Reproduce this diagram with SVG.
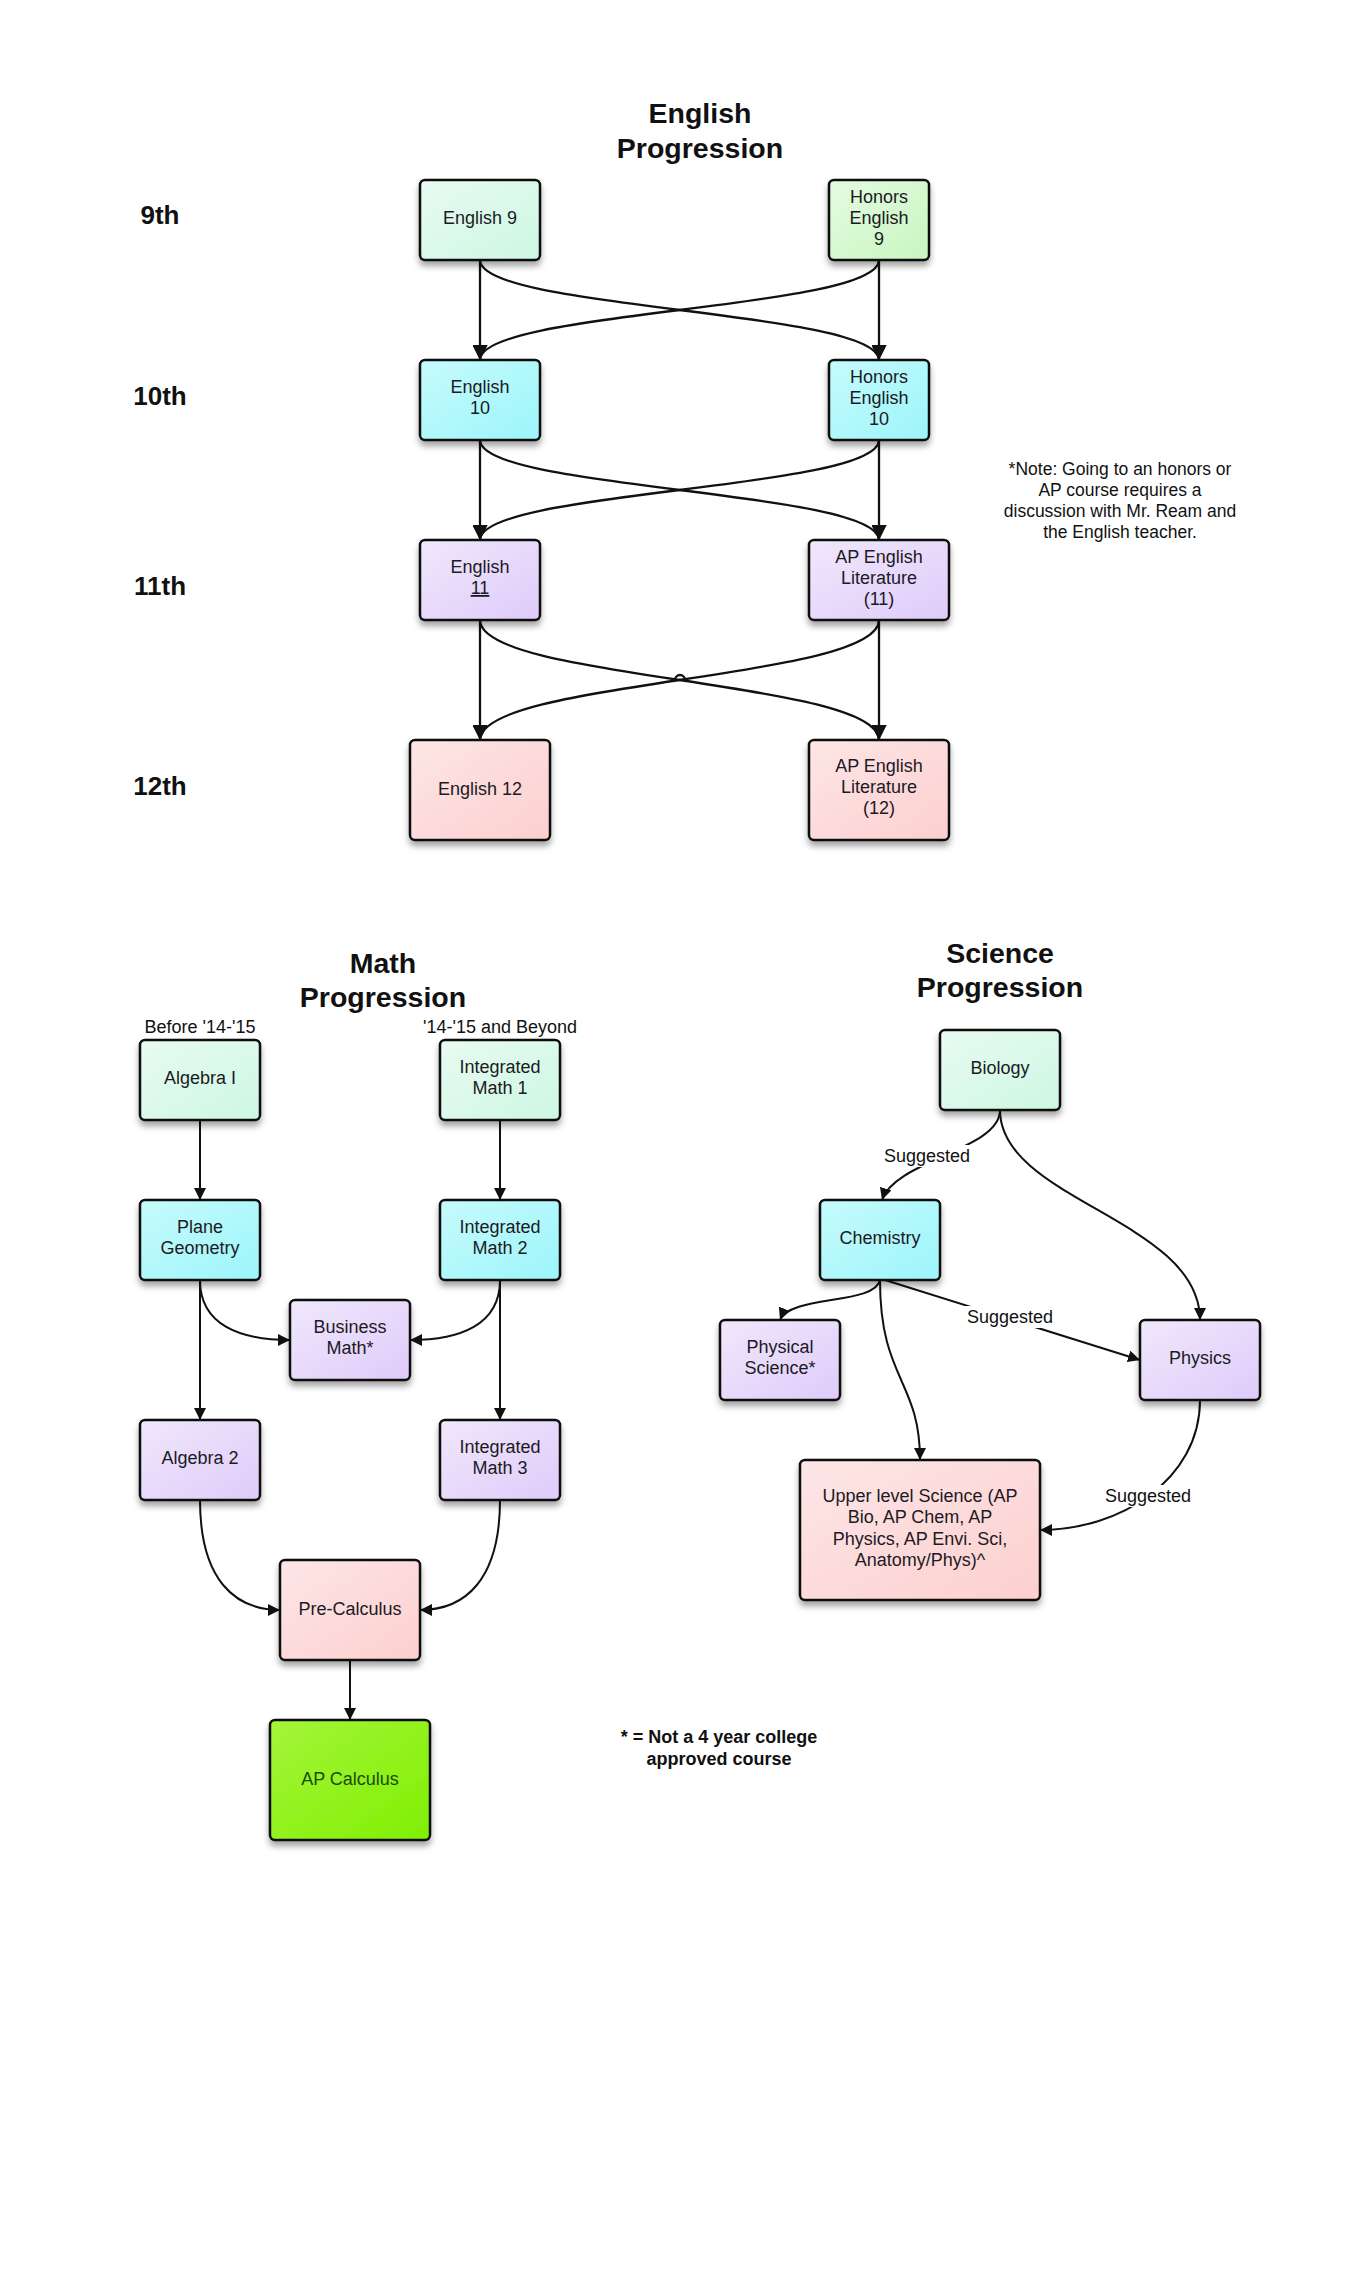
<svg xmlns="http://www.w3.org/2000/svg" width="1360" height="2274" viewBox="0 0 1360 2274">
<style>
.t{font-family:"Liberation Sans",Arial,sans-serif;font-size:18px;fill:#1c1a24;text-anchor:middle}
.h{font-family:"Liberation Sans",Arial,sans-serif;font-size:28.5px;font-weight:bold;fill:#111;text-anchor:middle}
.g{font-family:"Liberation Sans",Arial,sans-serif;font-size:26px;font-weight:bold;fill:#111;text-anchor:middle}
.n{font-family:"Liberation Sans",Arial,sans-serif;font-size:17.5px;fill:#111;text-anchor:middle}
.f{font-family:"Liberation Sans",Arial,sans-serif;font-size:18px;font-weight:bold;fill:#111;text-anchor:middle}
.box{stroke:#111;stroke-width:2.5}
.c{fill:none;stroke:#111;stroke-width:2}
.ce{fill:none;stroke:#111;stroke-width:2.3}
.a{marker-end:url(#arr)}
.al{marker-end:url(#arrL)}
.lb{fill:#fff}
</style>
<defs>
<filter id="sh" x="-20%" y="-20%" width="140%" height="150%">
<feDropShadow dx="0" dy="5" stdDeviation="3" flood-color="#000" flood-opacity="0.35"/>
</filter>
<linearGradient id="mint" x1="0" y1="0" x2="1" y2="1"><stop offset="0" stop-color="#e8fbf2"/><stop offset="1" stop-color="#cdf7e2"/></linearGradient>
<linearGradient id="green" x1="0" y1="0" x2="1" y2="1"><stop offset="0" stop-color="#e4fbe2"/><stop offset="1" stop-color="#c8f6bf"/></linearGradient>
<linearGradient id="cyan" x1="0" y1="0" x2="1" y2="1"><stop offset="0" stop-color="#c6fbfc"/><stop offset="1" stop-color="#9cf5fb"/></linearGradient>
<linearGradient id="lav" x1="0" y1="0" x2="1" y2="1"><stop offset="0" stop-color="#f0e8fc"/><stop offset="1" stop-color="#dfcbfa"/></linearGradient>
<linearGradient id="pink" x1="0" y1="0" x2="1" y2="1"><stop offset="0" stop-color="#fde6e6"/><stop offset="1" stop-color="#fdcfcf"/></linearGradient>
<linearGradient id="lime" x1="0" y1="0" x2="1" y2="1"><stop offset="0" stop-color="#a4f53a"/><stop offset="1" stop-color="#80ef02"/></linearGradient>
<marker id="arr" viewBox="0 0 12 12" refX="12" refY="6" markerWidth="12" markerHeight="12" markerUnits="userSpaceOnUse" orient="auto">
<path d="M0,0 L12,6 L0,12 z" fill="#111"/>
</marker>
<marker id="arrL" viewBox="0 0 15 15" refX="15" refY="7.5" markerWidth="15" markerHeight="15" markerUnits="userSpaceOnUse" orient="auto">
<path d="M0,0 L15,7.5 L0,15 z" fill="#111"/>
</marker>
</defs>
<rect width="1360" height="2274" fill="#fff"/>

<!-- Titles and labels -->
<g id="titles">
<text class="h" x="700" y="123">English</text>
<text class="h" x="700" y="158">Progression</text>
<text class="h" x="383" y="973">Math</text>
<text class="h" x="383" y="1007">Progression</text>
<text class="h" x="1000" y="963">Science</text>
<text class="h" x="1000" y="997">Progression</text>
</g>
<g id="grades">
<text class="g" x="160" y="224">9th</text>
<text class="g" x="160" y="405">10th</text>
<text class="g" x="160" y="595">11th</text>
<text class="g" x="160" y="795">12th</text>
</g>
<g id="note">
<text class="n" x="1120" y="475">*Note: Going to an honors or</text>
<text class="n" x="1120" y="496">AP course requires a</text>
<text class="n" x="1120" y="517">discussion with Mr. Ream and</text>
<text class="n" x="1120" y="538">the English teacher.</text>
</g>
<g id="mathlabels">
<text class="t" x="200" y="1033" style="fill:#111">Before '14-'15</text>
<text class="t" x="500" y="1033" style="fill:#111">'14-'15 and Beyond</text>
</g>
<g id="footnote">
<text class="f" x="719" y="1743">* = Not a 4 year college</text>
<text class="f" x="719" y="1765">approved course</text>
</g>

<!-- Connectors -->
<g id="connectors">
<path class="ce al" d="M480,260 L480,360"/>
<path class="ce al" d="M879,260 L879,360"/>
<path class="ce al" d="M480,260 C480,310 879,310 879,360"/>
<path class="ce al" d="M879,260 C879,310 480,310 480,360"/>
<path class="ce al" d="M480,440 L480,540"/>
<path class="ce al" d="M879,440 L879,540"/>
<path class="ce al" d="M480,440 C480,490 879,490 879,540"/>
<path class="ce al" d="M879,440 C879,490 480,490 480,540"/>
<path class="ce al" d="M480,620 L480,740"/>
<path class="ce al" d="M879,620 L879,740"/>
<path class="ce al" d="M480,620 C480,680 879,680 879,740"/>
<path class="ce al" d="M879,620 C879,680 480,680 480,740"/>
<path class="ce" d="M675,680 a5,5 0 0 1 10,0"/>

<path class="c a" d="M200,1120 L200,1200"/>
<path class="c a" d="M500,1120 L500,1200"/>
<path class="c a" d="M200,1280 C200,1325 240,1340 290,1340"/>
<path class="c a" d="M500,1280 C500,1325 460,1340 410,1340"/>
<path class="c a" d="M200,1280 L200,1420"/>
<path class="c a" d="M500,1280 L500,1420"/>
<path class="c a" d="M200,1500 C200,1580 235,1610 280,1610"/>
<path class="c a" d="M500,1500 C500,1580 465,1610 420,1610"/>
<path class="c a" d="M350,1660 L350,1720"/>

<path class="c a" d="M1000,1110 C1000,1150 895,1160 882,1200"/>
<path class="c a" d="M1000,1110 C1000,1200 1200,1220 1200,1320"/>
<path class="c a" d="M880,1280 C875,1305 790,1295 780,1320"/>
<path class="c a" d="M885,1280 L1140,1360"/>
<path class="c a" d="M880,1280 C880,1380 920,1380 920,1460"/>
<path class="c a" d="M1200,1400 C1200,1480 1120,1530 1040,1530"/>
<rect class="lb" x="882" y="1145" width="90" height="22"/>
<text class="t" x="927" y="1162" style="fill:#111">Suggested</text>
<rect class="lb" x="965" y="1306" width="90" height="22"/>
<text class="t" x="1010" y="1323" style="fill:#111">Suggested</text>
<rect class="lb" x="1103" y="1485" width="90" height="22"/>
<text class="t" x="1148" y="1502" style="fill:#111">Suggested</text>
</g>

<!-- English nodes -->
<g id="english9"><rect class="box" x="420" y="180" width="120" height="80" rx="5" fill="url(#mint)" filter="url(#sh)"/><text class="t" x="480" y="224">English 9</text></g>
<g id="honorsenglish9"><rect class="box" x="829" y="180" width="100" height="80" rx="5" fill="url(#green)" filter="url(#sh)"/><text class="t" x="879" y="203">Honors</text><text class="t" x="879" y="224">English</text><text class="t" x="879" y="245">9</text></g>
<g id="english10"><rect class="box" x="420" y="360" width="120" height="80" rx="5" fill="url(#cyan)" filter="url(#sh)"/><text class="t" x="480" y="393">English</text><text class="t" x="480" y="414">10</text></g>
<g id="honorsenglish10"><rect class="box" x="829" y="360" width="100" height="80" rx="5" fill="url(#cyan)" filter="url(#sh)"/><text class="t" x="879" y="383">Honors</text><text class="t" x="879" y="404">English</text><text class="t" x="879" y="425">10</text></g>
<g id="english11"><rect class="box" x="420" y="540" width="120" height="80" rx="5" fill="url(#lav)" filter="url(#sh)"/><text class="t" x="480" y="573">English</text><text class="t" x="480" y="594" text-decoration="underline">11</text></g>
<g id="apenglish11"><rect class="box" x="809" y="540" width="140" height="80" rx="5" fill="url(#lav)" filter="url(#sh)"/><text class="t" x="879" y="563">AP English</text><text class="t" x="879" y="584">Literature</text><text class="t" x="879" y="605">(11)</text></g>
<g id="english12"><rect class="box" x="410" y="740" width="140" height="100" rx="5" fill="url(#pink)" filter="url(#sh)"/><text class="t" x="480" y="795">English 12</text></g>
<g id="apenglish12"><rect class="box" x="809" y="740" width="140" height="100" rx="5" fill="url(#pink)" filter="url(#sh)"/><text class="t" x="879" y="772">AP English</text><text class="t" x="879" y="793">Literature</text><text class="t" x="879" y="814">(12)</text></g>

<!-- Math nodes -->
<g id="algebra1"><rect class="box" x="140" y="1040" width="120" height="80" rx="5" fill="url(#mint)" filter="url(#sh)"/><text class="t" x="200" y="1084">Algebra I</text></g>
<g id="intmath1"><rect class="box" x="440" y="1040" width="120" height="80" rx="5" fill="url(#mint)" filter="url(#sh)"/><text class="t" x="500" y="1073">Integrated</text><text class="t" x="500" y="1094">Math 1</text></g>
<g id="planegeometry"><rect class="box" x="140" y="1200" width="120" height="80" rx="5" fill="url(#cyan)" filter="url(#sh)"/><text class="t" x="200" y="1233">Plane</text><text class="t" x="200" y="1254">Geometry</text></g>
<g id="intmath2"><rect class="box" x="440" y="1200" width="120" height="80" rx="5" fill="url(#cyan)" filter="url(#sh)"/><text class="t" x="500" y="1233">Integrated</text><text class="t" x="500" y="1254">Math 2</text></g>
<g id="businessmath"><rect class="box" x="290" y="1300" width="120" height="80" rx="5" fill="url(#lav)" filter="url(#sh)"/><text class="t" x="350" y="1333">Business</text><text class="t" x="350" y="1354">Math*</text></g>
<g id="algebra2"><rect class="box" x="140" y="1420" width="120" height="80" rx="5" fill="url(#lav)" filter="url(#sh)"/><text class="t" x="200" y="1464">Algebra 2</text></g>
<g id="intmath3"><rect class="box" x="440" y="1420" width="120" height="80" rx="5" fill="url(#lav)" filter="url(#sh)"/><text class="t" x="500" y="1453">Integrated</text><text class="t" x="500" y="1474">Math 3</text></g>
<g id="precalculus"><rect class="box" x="280" y="1560" width="140" height="100" rx="5" fill="url(#pink)" filter="url(#sh)"/><text class="t" x="350" y="1615">Pre-Calculus</text></g>
<g id="apcalculus"><rect class="box" x="270" y="1720" width="160" height="120" rx="5" fill="url(#lime)" filter="url(#sh)"/><text class="t" x="350" y="1785" style="fill:#1d4a08">AP Calculus</text></g>

<!-- Science nodes -->
<g id="biology"><rect class="box" x="940" y="1030" width="120" height="80" rx="5" fill="url(#mint)" filter="url(#sh)"/><text class="t" x="1000" y="1074">Biology</text></g>
<g id="chemistry"><rect class="box" x="820" y="1200" width="120" height="80" rx="5" fill="url(#cyan)" filter="url(#sh)"/><text class="t" x="880" y="1244">Chemistry</text></g>
<g id="physicalscience"><rect class="box" x="720" y="1320" width="120" height="80" rx="5" fill="url(#lav)" filter="url(#sh)"/><text class="t" x="780" y="1353">Physical</text><text class="t" x="780" y="1374">Science*</text></g>
<g id="physics"><rect class="box" x="1140" y="1320" width="120" height="80" rx="5" fill="url(#lav)" filter="url(#sh)"/><text class="t" x="1200" y="1364">Physics</text></g>
<g id="upperscience"><rect class="box" x="800" y="1460" width="240" height="140" rx="5" fill="url(#pink)" filter="url(#sh)"/><text class="t" x="920" y="1502">Upper level Science (AP</text><text class="t" x="920" y="1523">Bio, AP Chem, AP</text><text class="t" x="920" y="1545">Physics, AP Envi. Sci,</text><text class="t" x="920" y="1566">Anatomy/Phys)^</text></g>
</svg>
